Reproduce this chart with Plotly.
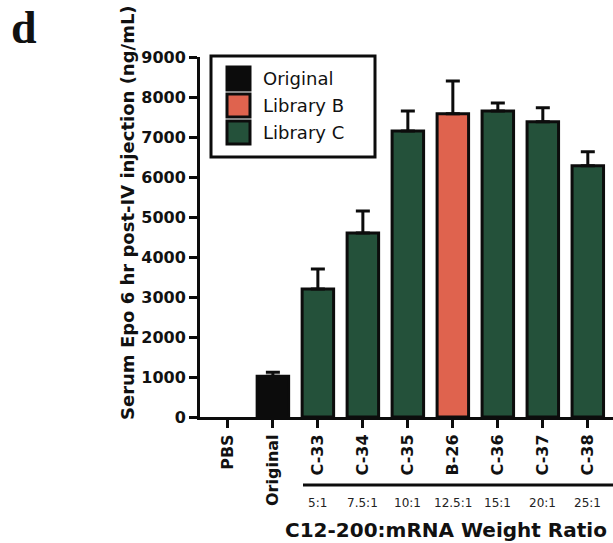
import plotly.graph_objects as go

# Serum Epo 6 h after IV injection, per formulation
categories = ["PBS", "Original", "C-33", "C-34", "C-35", "B-26", "C-36", "C-37", "C-38"]
groups = ["PBS", "Original", "Library C", "Library C", "Library C", "Library B",
          "Library C", "Library C", "Library C"]
epo_mean = [0, 1020, 3200, 4600, 7150, 7580, 7650, 7380, 6280]
epo_err = [0, 100, 500, 550, 500, 820, 200, 350, 350]
ratio_labels = ["5:1", "7.5:1", "10:1", "12.5:1", "15:1", "20:1", "25:1"]
ratio_categories = ["C-33", "C-34", "C-35", "B-26", "C-36", "C-37", "C-38"]
y_ticks = [0, 1000, 2000, 3000, 4000, 5000, 6000, 7000, 8000, 9000]

palette = {"PBS": "#ffffff", "Original": "#0c0c0c",
           "Library B": "#df634e", "Library C": "#24513a"}
legend_items = ["Original", "Library B", "Library C"]

W, H = 613, 543
L, R, T, B = 200, 0, 57, 126
pw, ph = W - L - R, H - T - B


def px(x):
    return (x - L) / pw


def py(y):
    return (H - B - y) / ph


# only groups with a measurable signal get a bar and a whisker
shown = [i for i, m in enumerate(epo_mean) if m > 0]

fig = go.Figure()
# placeholder keeps the PBS slot on the category axis
fig.add_trace(go.Scatter(x=categories, y=[0] * len(categories), mode="markers",
                         marker=dict(opacity=0), hoverinfo="skip", showlegend=False))
fig.add_trace(go.Bar(
    x=[categories[i] for i in shown], y=[epo_mean[i] for i in shown],
    marker=dict(color=[palette[groups[i]] for i in shown],
                line=dict(color="#0c0c0c", width=3)),
    width=0.7,
    error_y=dict(type="data", array=[epo_err[i] for i in shown],
                 arrayminus=[0] * len(shown), symmetric=False,
                 color="#0c0c0c", thickness=3, width=7),
    showlegend=False,
))

ink = "#111111"
cat_font = dict(family="DejaVu Sans", size=16, color=ink, weight="bold")
ytick_font = dict(family="DejaVu Sans", size=16, color=ink, weight="bold")

fig.update_layout(
    width=W, height=H,
    margin=dict(l=L, r=R, t=T, b=B),
    paper_bgcolor="white", plot_bgcolor="white",
    xaxis=dict(
        type="category", categoryorder="array", categoryarray=categories,
        range=[-0.62, 8.56],
        showline=True, linecolor="#0c0c0c", linewidth=3,
        ticks="outside", ticklen=8, tickwidth=3, tickcolor="#0c0c0c",
        tickangle=-90, tickfont=cat_font, showgrid=False, zeroline=False,
    ),
    yaxis=dict(
        range=[0, 9000], tickvals=y_ticks,
        showline=True, linecolor="#0c0c0c", linewidth=3,
        ticks="outside", ticklen=8, tickwidth=3, tickcolor="#0c0c0c",
        tickfont=ytick_font, showgrid=False, zeroline=False,
    ),
)

anns = []
shapes = []

# panel letter
anns.append(dict(x=px(24), y=py(27), xref="paper", yref="paper", text="<b>d</b>",
                 showarrow=False, xanchor="center", yanchor="middle",
                 font=dict(family="Liberation Serif", size=46, color=ink)))

# y-axis title
anns.append(dict(x=px(127), y=py(213), xref="paper", yref="paper",
                 text="<b>Serum Epo 6 hr post-IV injection (ng/mL)</b>",
                 showarrow=False, textangle=-90, xanchor="center", yanchor="middle",
                 font=dict(family="DejaVu Sans", size=18, color=ink)))

# legend box with swatches
shapes.append(dict(type="rect", xref="paper", yref="paper",
                   x0=px(211), x1=px(375), y0=py(56), y1=py(157),
                   line=dict(color="#0c0c0c", width=3), fillcolor="white"))
sw_top = [67, 94, 121]
for name, top in zip(legend_items, sw_top):
    shapes.append(dict(type="rect", xref="paper", yref="paper",
                       x0=px(227), x1=px(250), y0=py(top), y1=py(top + 23),
                       line=dict(color="#0c0c0c", width=3), fillcolor=palette[name]))
    anns.append(dict(x=px(261), y=py(top + 11.5), xref="paper", yref="paper",
                     text=name, showarrow=False, xanchor="left", yanchor="middle",
                     font=dict(family="DejaVu Sans", size=18, color=ink)))

# bracket line under the ratio series
shapes.append(dict(type="line", xref="paper", yref="paper",
                   x0=px(303), x1=1.0, y0=py(485), y1=py(485),
                   line=dict(color="#0c0c0c", width=3)))

for cat, lab in zip(ratio_categories, ratio_labels):
    anns.append(dict(x=cat, y=py(503), xref="x", yref="paper", text=lab,
                     showarrow=False, xanchor="center", yanchor="middle",
                     font=dict(family="DejaVu Sans", size=12, color="#222222")))

# x-axis title
anns.append(dict(x=px(283), y=py(530), xref="paper", yref="paper",
                 text="<b>C12-200:mRNA Weight Ratio</b>", showarrow=False,
                 xanchor="left", yanchor="middle",
                 font=dict(family="DejaVu Sans", size=20, color=ink)))

fig.update_layout(annotations=anns, shapes=shapes)
fig.write_html("out.html")
